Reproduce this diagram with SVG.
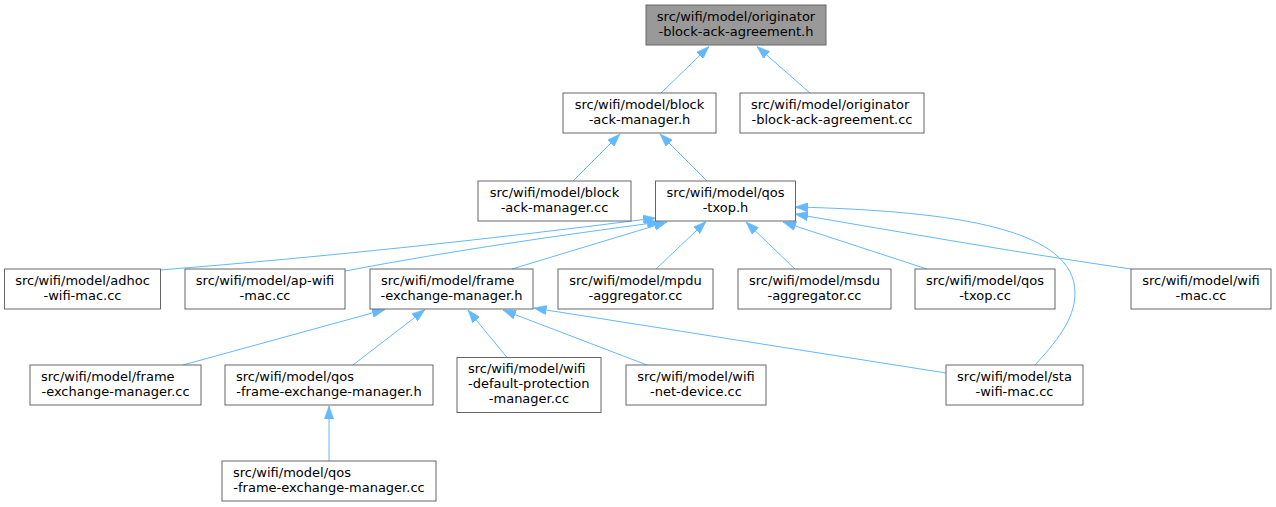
<svg xmlns="http://www.w3.org/2000/svg" width="1276" height="507" viewBox="0 0 1276 507">
<style>
.n rect{fill:#ffffff;stroke:#666666;stroke-width:1}
.root rect{fill:#999999}
text{font-family:"DejaVu Sans","Liberation Sans",sans-serif;font-size:13px;fill:#000000}
.m{text-anchor:middle}
.s{text-anchor:start}
#edges path{fill:none;stroke:#63b8ff;stroke-width:1;marker-end:url(#arr)}
</style>
<defs>
<marker id="arr" markerUnits="userSpaceOnUse" viewBox="0 0 13 9.4" refX="13" refY="4.7" markerWidth="13" markerHeight="9.4" orient="auto">
<path d="M0,0 L13,4.7 L0,9.4 z" fill="#63b8ff" stroke="#63b8ff" stroke-width="0.5"/>
</marker>
</defs>
<rect width="1276" height="507" fill="#ffffff"/>
<g id="edges">
<path d="M661,93 L709,46.5"/>
<path d="M810,93 L757,46.5"/>
<path d="M573,181 L620,134"/>
<path d="M707,181 L660,134"/>
<path d="M160,270 C325,257 491,239 656,218"/>
<path d="M345,271 C450,251 555,236 660,222"/>
<path d="M512,269 L667,222"/>
<path d="M656,269 L706,221.5"/>
<path d="M795,269 L746,222"/>
<path d="M927,269 L783,222"/>
<path d="M1131,269 C1020,253 900,232 795,214"/>
<path d="M1035,365 C1055,343 1075,320 1075,293 C1075,230 960,211 795,207"/>
<path d="M183,365 L385,309.5"/>
<path d="M353,365 L425,309.5"/>
<path d="M507,357.5 L468,310"/>
<path d="M647,365 L503,310"/>
<path d="M946,373 L533.5,308"/>
<path d="M329,461 L329,406"/>
</g>
<g id="n_orig_h" class="n root"><rect x="646" y="5" width="180" height="40"/><text class="m" x="736" y="20.5">src/wifi/model/originator</text><text class="m" x="736" y="35.5">-block-ack-agreement.h</text></g>
<g id="n_bam_h" class="n"><rect x="563" y="93" width="153" height="40"/><text class="m" x="639.5" y="108.5">src/wifi/model/block</text><text class="m" x="639.5" y="123.5">-ack-manager.h</text></g>
<g id="n_orig_cc" class="n"><rect x="740" y="93" width="184" height="40"/><text class="s" x="751" y="108.5">src/wifi/model/originator</text><text class="m" x="832" y="123.5">-block-ack-agreement.cc</text></g>
<g id="n_bam_cc" class="n"><rect x="478" y="181" width="153" height="40"/><text class="m" x="554.5" y="196.5">src/wifi/model/block</text><text class="m" x="554.5" y="211.5">-ack-manager.cc</text></g>
<g id="n_qos_h" class="n"><rect x="655.5" y="181" width="140" height="40"/><text class="m" x="725.5" y="196.5">src/wifi/model/qos</text><text class="m" x="725.5" y="211.5">-txop.h</text></g>
<g id="n_adhoc" class="n"><rect x="4.5" y="269" width="156" height="40"/><text class="m" x="82.5" y="284.5">src/wifi/model/adhoc</text><text class="m" x="82.5" y="299.5">-wifi-mac.cc</text></g>
<g id="n_ap" class="n"><rect x="185" y="269" width="160" height="40"/><text class="m" x="265" y="284.5">src/wifi/model/ap-wifi</text><text class="m" x="265" y="299.5">-mac.cc</text></g>
<g id="n_fem_h" class="n"><rect x="370" y="269" width="163" height="40"/><text class="s" x="381" y="284.5">src/wifi/model/frame</text><text class="m" x="451.5" y="299.5">-exchange-manager.h</text></g>
<g id="n_mpdu" class="n"><rect x="558" y="269" width="155" height="40"/><text class="m" x="635.5" y="284.5">src/wifi/model/mpdu</text><text class="m" x="635.5" y="299.5">-aggregator.cc</text></g>
<g id="n_msdu" class="n"><rect x="738" y="269" width="153" height="40"/><text class="m" x="814.5" y="284.5">src/wifi/model/msdu</text><text class="m" x="814.5" y="299.5">-aggregator.cc</text></g>
<g id="n_qos_cc" class="n"><rect x="915" y="269" width="140" height="40"/><text class="m" x="985" y="284.5">src/wifi/model/qos</text><text class="m" x="985" y="299.5">-txop.cc</text></g>
<g id="n_wmac" class="n"><rect x="1131" y="269" width="140" height="40"/><text class="m" x="1201" y="284.5">src/wifi/model/wifi</text><text class="m" x="1201" y="299.5">-mac.cc</text></g>
<g id="n_fem_cc" class="n"><rect x="30" y="365" width="171" height="40"/><text class="s" x="41" y="380.5">src/wifi/model/frame</text><text class="m" x="115.5" y="395.5">-exchange-manager.cc</text></g>
<g id="n_qfem_h" class="n"><rect x="225" y="365" width="208" height="40"/><text class="s" x="236" y="380.5">src/wifi/model/qos</text><text class="m" x="329" y="395.5">-frame-exchange-manager.h</text></g>
<g id="n_wdp" class="n"><rect x="457" y="357.5" width="144" height="55"/><text class="s" x="468" y="373">src/wifi/model/wifi</text><text class="s" x="468" y="388">-default-protection</text><text class="m" x="529" y="403">-manager.cc</text></g>
<g id="n_wnd" class="n"><rect x="626" y="365" width="140" height="40"/><text class="m" x="696" y="380.5">src/wifi/model/wifi</text><text class="m" x="696" y="395.5">-net-device.cc</text></g>
<g id="n_sta" class="n"><rect x="946" y="365" width="137" height="40"/><text class="m" x="1014.5" y="380.5">src/wifi/model/sta</text><text class="m" x="1014.5" y="395.5">-wifi-mac.cc</text></g>
<g id="n_qfem_cc" class="n"><rect x="222" y="461" width="214" height="40"/><text class="s" x="233" y="476.5">src/wifi/model/qos</text><text class="m" x="329" y="491.5">-frame-exchange-manager.cc</text></g>
</svg>
